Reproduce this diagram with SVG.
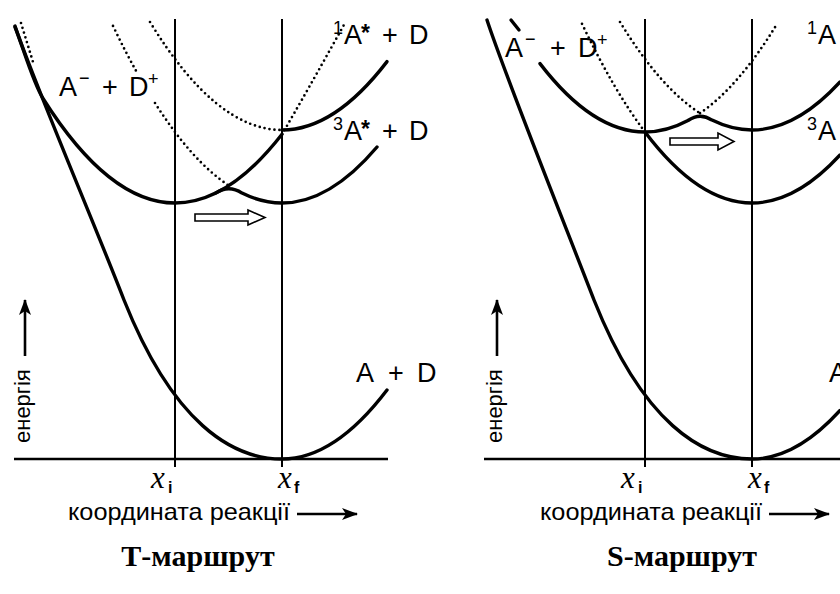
<svg xmlns="http://www.w3.org/2000/svg" width="840" height="594" viewBox="0 0 840 594">
<defs>
<style>
.thick{fill:none;stroke:#000;stroke-width:3.4;stroke-linecap:round;stroke-linejoin:round}
.vl{fill:none;stroke:#000;stroke-width:2}
.ax{fill:none;stroke:#000;stroke-width:2.6}
.dot{fill:none;stroke:#000;stroke-width:2.7;stroke-dasharray:0 5;stroke-linecap:round}
.hollow{fill:#fff;stroke:#000;stroke-width:1.6;stroke-linejoin:miter}
.lbl{font-family:"Liberation Sans",Arial,Helvetica,sans-serif;font-size:27px;fill:#000}
.sup{font-family:"Liberation Sans",Arial,Helvetica,sans-serif;font-size:18px;fill:#000}
.star{font-family:"Liberation Sans",Arial,Helvetica,sans-serif;font-size:23px;font-weight:bold;fill:#000}
.axl{font-family:"Liberation Sans",Arial,Helvetica,sans-serif;fill:#000}
.xv{font-family:"Liberation Serif","Times New Roman",serif;font-style:italic;font-size:31px;fill:#000}
.xs{font-family:"Liberation Sans",Arial,sans-serif;font-weight:bold;font-size:16px;fill:#000}
.title{font-family:"Liberation Serif","Times New Roman",serif;font-weight:bold;font-size:30px;fill:#000;text-anchor:middle}
</style>
<marker id="ah" markerWidth="16" markerHeight="12" refX="15" refY="6" orient="auto" markerUnits="userSpaceOnUse">
<path d="M0,0 L16,6 L0,12 L4,6 Z" fill="#000"/>
</marker>
</defs>
<rect width="840" height="594" fill="#fff"/>

<g id="panel-T">
  <g id="T-axes">
    <line class="ax" x1="14" y1="459" x2="388" y2="459"/>
    <line class="vl" x1="175" y1="19" x2="175" y2="467"/>
    <line class="vl" x1="282" y1="19" x2="282" y2="467"/>
  </g>
  <g id="T-curves">
    <path id="T-AD" class="thick" d="M15,26 C33,80 95,225 124,300 C173,423 232,459 282,459 Q334.5,459 387,390"/>
    <path id="T-AmDp" class="thick" d="M15,27 C23,47 33,82.7 43,98.5 Q109,203 175,203 Q228.5,203 282,134.3"/>
    <path id="T-AmDp-dot" class="dot" d="M282,134.3 Q305,95 345,23"/>
    <path id="T-topleft-dot" class="dot" d="M21,23 L33,62"/>
    <path id="T-3A-dot1" class="dot" d="M113,25.9 Q125,51.1 137,72.6"/>
    <path id="T-3A-dot2" class="dot" d="M155,103 Q191.95,161.2 228.9,185.6"/>
    <path id="T-3A" class="thick" d="M216,192.9 Q229,184.5 242,193.1 Q262,203 282,203 Q329.5,203 377,147"/>
    <path id="T-1A-dot" class="dot" d="M150,22 Q216,130 282,130"/>
    <path id="T-1A" class="thick" d="M282,130 Q334.5,130 387,61.6"/>
  </g>
  <path id="T-transfer" class="hollow" d="M195,214 L248,214 L248,210 L265,217.5 L248,225 L248,221 L195,221 Z"/>
  <g id="T-labels">
    <g id="T-lbl-AmDp"><text class="lbl" x="59" y="96">A</text><text class="sup" x="79" y="84">−</text><text class="lbl" x="102" y="96">+</text><text class="lbl" x="129" y="96">D</text><text class="sup" x="148" y="85">+</text></g>
    <g id="T-lbl-1A"><text class="sup" x="333" y="34">1</text><text class="lbl" x="344" y="44">A</text><text class="star" x="361" y="41">*</text><text class="lbl" x="382" y="44">+</text><text class="lbl" x="409" y="44">D</text></g>
    <g id="T-lbl-3A"><text class="sup" x="333" y="130">3</text><text class="lbl" x="344" y="140">A</text><text class="star" x="361" y="137">*</text><text class="lbl" x="382" y="140">+</text><text class="lbl" x="409" y="140">D</text></g>
    <g id="T-lbl-AD"><text class="lbl" x="356" y="382">A</text><text class="lbl" x="388" y="382">+</text><text class="lbl" x="417" y="382">D</text></g>
    <g id="T-xi"><text class="xv" x="151" y="488">x</text><text class="xs" x="168" y="493">i</text></g>
    <g id="T-xf"><text class="xv" x="278" y="488">x</text><text class="xs" x="294" y="493">f</text></g>
    <g id="T-xlabel"><text class="axl" x="68" y="520" font-size="24" textLength="222" lengthAdjust="spacingAndGlyphs">координата реакції</text><line class="ax" x1="297" y1="514" x2="357" y2="514" stroke-width="2" marker-end="url(#ah)"/></g>
    <g id="T-ylabel"><text class="axl" font-size="22" transform="translate(30,443) rotate(-90)">енергія</text><line class="ax" x1="25" y1="356" x2="25" y2="300" stroke-width="2" marker-end="url(#ah)"/></g>
  </g>
  <text id="T-title" class="title" x="198" y="566">Т-маршрут</text>
</g>

<g id="panel-S">
  <g id="S-axes">
    <line class="ax" x1="484" y1="459" x2="840" y2="459"/>
    <line class="vl" x1="645" y1="19" x2="645" y2="467"/>
    <line class="vl" x1="752" y1="19" x2="752" y2="467"/>
  </g>
  <g id="S-curves">
    <path id="S-AD" class="thick" d="M487,20 C505,75 565,225 594,300 C643,423 702,459 752,459 Q796,459 840,410.5"/>
    <path id="S-AmDp-tick" class="thick" d="M511,20 L519,30"/>
    <path id="S-AmDp" class="thick" d="M540,63.6 Q592.5,132 645,132 Q666.5,132 688,120.5 Q700,112 712,120.1 Q732,130 752,130 Q796,130 840,82"/>
    <path id="S-AmDp-dot" class="dot" d="M700,113.2 Q738.5,86.9 777,24"/>
    <path id="S-1A-dot" class="dot" d="M620,22 Q660,87.5 700,113.2"/>
    <path id="S-3A-dot" class="dot" d="M582,23.8 Q613.5,90.2 645,132"/>
    <path id="S-3A" class="thick" d="M645,132 Q698.5,203 752,203 Q796,203 840,155"/>
  </g>
  <path id="S-transfer" class="hollow" d="M670,138 L718,138 L718,133 L734,141.5 L718,150 L718,145 L670,145 Z"/>
  <g id="S-labels">
    <g id="S-lbl-AmDp"><text class="lbl" x="505" y="57">A</text><text class="sup" x="525" y="45">−</text><text class="lbl" x="550" y="57">+</text><text class="lbl" x="578" y="57">D</text><text class="sup" x="597" y="46">+</text></g>
    <g id="S-lbl-1A"><text class="sup" x="807" y="34">1</text><text class="lbl" x="818" y="44">A</text></g>
    <g id="S-lbl-3A"><text class="sup" x="807" y="130">3</text><text class="lbl" x="818" y="140">A</text></g>
    <g id="S-lbl-AD"><text class="lbl" x="829" y="382">A</text></g>
    <g id="S-xi"><text class="xv" x="621" y="488">x</text><text class="xs" x="638" y="493">i</text></g>
    <g id="S-xf"><text class="xv" x="748" y="488">x</text><text class="xs" x="764" y="493">f</text></g>
    <g id="S-xlabel"><text class="axl" x="540" y="520" font-size="24" textLength="222" lengthAdjust="spacingAndGlyphs">координата реакції</text><line class="ax" x1="769" y1="514" x2="829" y2="514" stroke-width="2" marker-end="url(#ah)"/></g>
    <g id="S-ylabel"><text class="axl" font-size="22" transform="translate(502,443) rotate(-90)">енергія</text><line class="ax" x1="497" y1="356" x2="497" y2="300" stroke-width="2" marker-end="url(#ah)"/></g>
  </g>
  <text id="S-title" class="title" x="682" y="566">S-маршрут</text>
</g>
</svg>
